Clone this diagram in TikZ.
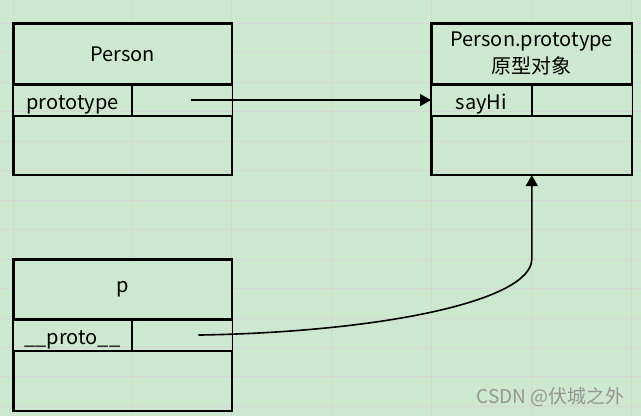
\documentclass[tikz,border=0pt]{standalone}
\usepackage{fontspec}
\setmainfont{Noto Sans CJK SC}
\usepackage{xcolor}
\usepackage{tikz}
\usetikzlibrary{arrows.meta, positioning, calc}

\definecolor{sheetbg}{RGB}{204,232,207}
\definecolor{gridgray}{RGB}{214,214,214}
\definecolor{markgray}{RGB}{150,150,150}

\begin{document}
\begin{tikzpicture}[
    x=1pt, y=-1pt,
    gridline/.style={draw=gridgray, line width=1pt},
    head/.style={rectangle, draw, line width=1.6pt, fill=sheetbg, inner sep=0pt, align=center, font=\fontsize{20}{27}\selectfont},
    cell/.style={rectangle, draw, line width=0.9pt, inner sep=0pt, minimum height=30pt, text height=19pt, text depth=1pt, font=\fontsize{20}{24}\selectfont},
    tail/.style={rectangle, draw, line width=1.6pt, inner sep=0pt},
    frame/.style={line width=1.6pt},
    ptr/.style={-{Triangle[length=11pt,width=12pt]}, line width=1.6pt}
]
\useasboundingbox (0,0) rectangle (641,416);
\fill[sheetbg] (0,0) rectangle (641,416);

% sheet grid
\foreach \gx in {13,131,231,331,431,531,631}
    \draw[gridline] (\gx,0) -- (\gx,416);
\foreach \k in {0,...,13}
    \draw[gridline] (0,{23.5+29.45*\k}) -- (641,{23.5+29.45*\k});

% Person
\node[head, minimum width=218pt, minimum height=60pt, anchor=north west] (personTitle) at (13,23) {Person};
\node[cell, minimum width=118pt, below right=0pt and 0pt of personTitle.south west] (personKey) {prototype};
\node[cell, minimum width=100pt, right=0pt of personKey] (personVal) {};
\node[tail, minimum width=218pt, minimum height=58pt, below right=0pt and 0pt of personKey.south west] (personBody) {};
\draw[frame] (personTitle.north west) rectangle (personBody.south east);

% Person.prototype
\node[head, minimum width=200pt, minimum height=60pt, anchor=north west] (protoTitle) at (431,23) {Person.prototype\\原型对象};
\node[cell, minimum width=100pt, below right=0pt and 0pt of protoTitle.south west] (sayhiKey) {sayHi};
\node[cell, minimum width=100pt, right=0pt of sayhiKey] (sayhiVal) {};
\node[tail, minimum width=200pt, minimum height=58pt, below right=0pt and 0pt of sayhiKey.south west] (protoBody) {};
\draw[frame] (protoTitle.north west) rectangle (protoBody.south east);

% p
\node[head, minimum width=218pt, minimum height=59pt, anchor=north west] (pTitle) at (13,259) {p};
\node[cell, minimum width=118pt, below right=0pt and 0pt of pTitle.south west] (pKey) {\_\_proto\_\_};
\node[cell, minimum width=100pt, right=0pt of pKey] (pVal) {};
\node[tail, minimum width=218pt, minimum height=59pt, below right=0pt and 0pt of pKey.south west] (pBody) {};
\draw[frame] (pTitle.north west) rectangle (pBody.south east);

% pointers
\coordinate (tailA) at ([xshift=9pt]personVal.center);
\coordinate (tailB) at ([xshift=16pt]pVal.center);
\coordinate (bend) at (protoBody.south |- pTitle.north);
\draw[ptr] (tailA) -- (sayhiKey.west);
\draw[ptr] (tailB) .. controls +(183,-3) and +(0,42) .. (bend) -- (protoBody.south);

\node[text=markgray, font=\fontsize{19}{22}\selectfont, anchor=south east] (mark) at (628,410) {CSDN @伏城之外};

\end{tikzpicture}
\end{document}
